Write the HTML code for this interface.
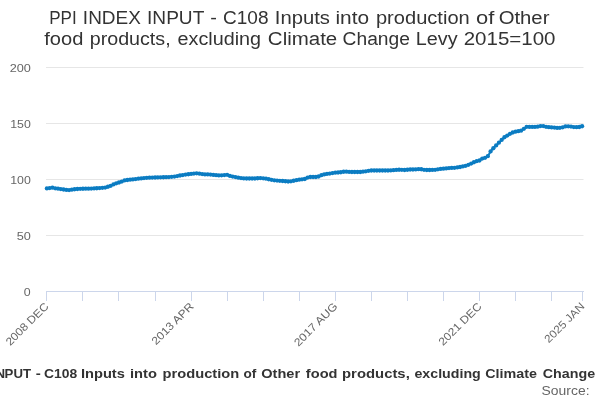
<!DOCTYPE html>
<html><head><meta charset="utf-8"><title>PPI INDEX INPUT - C108</title>
<style>
html,body{margin:0;padding:0;background:#fff;width:600px;height:400px;overflow:hidden}
svg{display:block;font-family:"Liberation Sans",sans-serif;will-change:transform}
.t{font-size:18px;fill:#333}
.ax{font-size:11px;fill:#666}
.lg{font-size:12.6px;font-weight:bold;fill:#333}
.src{font-size:12px;fill:#666}
</style></head>
<body>
<svg width="600" height="400" viewBox="0 0 600 400">
<rect x="0" y="0" width="600" height="400" fill="#ffffff"/>
<path d="M46 67.5H583.5M46 123.5H583.5M46 179.5H583.5M46 235.5H583.5" stroke="#e6e6e6" stroke-width="1" fill="none"/>
<path d="M46 291.5H584" stroke="#ccd6eb" stroke-width="1" fill="none"/>
<path d="M46.5 291V301M82.5 291V301M118.5 291V301M155.5 291V301M191.5 291V301M227.5 291V301M263.5 291V301M299.5 291V301M335.5 291V301M371.5 291V301M407.5 291V301M443.5 291V301M479.5 291V301M515.5 291V301M551.5 291V301M582.5 291V301" stroke="#ccd6eb" stroke-width="1" fill="none"/>
<g class="t">
<text x="49.27" y="24" textLength="27.42" lengthAdjust="spacingAndGlyphs">PPI</text>
<text x="82.89" y="24" textLength="57.93" lengthAdjust="spacingAndGlyphs">INDEX</text>
<text x="147.07" y="24" textLength="57.25" lengthAdjust="spacingAndGlyphs">INPUT</text>
<text x="210.39" y="24" textLength="6.66" lengthAdjust="spacingAndGlyphs">-</text>
<text x="223.04" y="24" textLength="45.46" lengthAdjust="spacingAndGlyphs">C108</text>
<text x="274.83" y="24" textLength="55.13" lengthAdjust="spacingAndGlyphs">Inputs</text>
<text x="335.47" y="24" textLength="33.66" lengthAdjust="spacingAndGlyphs">into</text>
<text x="375.96" y="24" textLength="93.77" lengthAdjust="spacingAndGlyphs">production</text>
<text x="475.94" y="24" textLength="18.30" lengthAdjust="spacingAndGlyphs">of</text>
<text x="498.65" y="24" textLength="50.78" lengthAdjust="spacingAndGlyphs">Other</text>
<text x="44.29" y="45" textLength="39.10" lengthAdjust="spacingAndGlyphs">food</text>
<text x="89.71" y="45" textLength="80.90" lengthAdjust="spacingAndGlyphs">products,</text>
<text x="177.57" y="45" textLength="83.51" lengthAdjust="spacingAndGlyphs">excluding</text>
<text x="267.89" y="45" textLength="69.37" lengthAdjust="spacingAndGlyphs">Climate</text>
<text x="342.57" y="45" textLength="67.32" lengthAdjust="spacingAndGlyphs">Change</text>
<text x="415.73" y="45" textLength="41.83" lengthAdjust="spacingAndGlyphs">Levy</text>
<text x="463.71" y="45" textLength="91.75" lengthAdjust="spacingAndGlyphs">2015=100</text>
</g>
<g class="ax">
<text x="9.65" y="72" textLength="21.17" lengthAdjust="spacingAndGlyphs">200</text>
<text x="10.25" y="128" textLength="20.57" lengthAdjust="spacingAndGlyphs">150</text>
<text x="10.25" y="184" textLength="20.57" lengthAdjust="spacingAndGlyphs">100</text>
<text x="16.70" y="240" textLength="14.13" lengthAdjust="spacingAndGlyphs">50</text>
<text x="23.86" y="296" textLength="6.88" lengthAdjust="spacingAndGlyphs">0</text>
</g>
<g class="ax"><text x="49.3" y="307.1" text-anchor="end" textLength="55.4" lengthAdjust="spacingAndGlyphs" transform="rotate(-45 49.3 307.1)">2008 DEC</text><text x="194.3" y="307.1" text-anchor="end" textLength="54.3" lengthAdjust="spacingAndGlyphs" transform="rotate(-45 194.3 307.1)">2013 APR</text><text x="338.3" y="307.1" text-anchor="end" textLength="56.4" lengthAdjust="spacingAndGlyphs" transform="rotate(-45 338.3 307.1)">2017 AUG</text><text x="482.3" y="307.1" text-anchor="end" textLength="55.4" lengthAdjust="spacingAndGlyphs" transform="rotate(-45 482.3 307.1)">2021 DEC</text><text x="585.3" y="307.1" text-anchor="end" textLength="51.6" lengthAdjust="spacingAndGlyphs" transform="rotate(-45 585.3 307.1)">2025 JAN</text></g>
<path d="M46.90 188.47 L49.67 188.05 L52.45 187.67 L55.22 188.33 L57.99 188.72 L60.77 189.11 L63.54 189.50 L66.31 189.92 L69.08 190.06 L71.86 189.72 L74.63 189.26 L77.40 189.01 L80.18 188.80 L82.95 188.74 L85.72 188.69 L88.50 188.63 L91.27 188.55 L94.04 188.44 L96.81 188.25 L99.59 188.03 L102.36 187.81 L105.13 187.56 L107.91 186.76 L110.68 185.86 L113.45 184.47 L116.22 183.33 L119.00 182.50 L121.77 181.53 L124.54 180.47 L127.32 180.02 L130.09 179.69 L132.86 179.41 L135.64 179.11 L138.41 178.72 L141.18 178.38 L143.96 178.10 L146.73 177.86 L149.50 177.64 L152.27 177.55 L155.05 177.50 L157.82 177.39 L160.59 177.29 L163.37 177.23 L166.14 177.15 L168.91 177.04 L171.69 176.83 L174.46 176.55 L177.23 176.05 L180.00 175.50 L182.78 175.06 L185.55 174.62 L188.32 174.23 L191.10 173.89 L193.87 173.61 L196.64 173.34 L199.42 173.70 L202.19 174.06 L204.96 174.40 L207.73 174.45 L210.51 174.56 L213.28 174.89 L216.05 175.18 L218.83 175.41 L221.60 175.34 L224.37 175.06 L227.15 174.86 L229.92 175.97 L232.69 176.54 L235.46 177.09 L238.24 177.65 L241.01 178.10 L243.78 178.38 L246.56 178.50 L249.33 178.50 L252.10 178.50 L254.88 178.50 L257.65 178.24 L260.42 178.04 L263.19 178.32 L265.97 178.69 L268.74 179.25 L271.51 179.80 L274.29 180.36 L277.06 180.62 L279.83 180.79 L282.61 181.01 L285.38 181.24 L288.15 181.50 L290.92 181.32 L293.70 180.76 L296.47 180.21 L299.24 179.65 L302.02 179.30 L304.79 179.02 L307.56 177.55 L310.33 177.00 L313.11 177.00 L315.88 177.00 L318.65 176.51 L321.43 175.13 L324.20 174.41 L326.97 173.92 L329.75 173.54 L332.52 173.10 L335.29 172.68 L338.06 172.52 L340.84 172.25 L343.61 171.75 L346.38 171.64 L349.16 171.92 L351.93 172.00 L354.70 172.00 L357.48 172.00 L360.25 171.98 L363.02 171.70 L365.80 171.34 L368.57 170.79 L371.34 170.50 L374.11 170.50 L376.89 170.50 L379.66 170.50 L382.43 170.50 L385.21 170.50 L387.98 170.50 L390.75 170.42 L393.52 170.15 L396.30 169.92 L399.07 169.76 L401.84 169.81 L404.62 169.98 L407.39 169.76 L410.16 169.50 L412.94 169.50 L415.71 169.43 L418.48 169.15 L421.25 169.25 L424.03 169.81 L426.80 170.00 L429.57 170.00 L432.35 169.91 L435.12 169.78 L437.89 169.34 L440.67 168.93 L443.44 168.66 L446.21 168.38 L448.99 168.10 L451.76 167.93 L454.53 167.82 L457.30 167.43 L460.08 166.98 L462.85 166.43 L465.62 165.78 L468.40 164.78 L471.17 163.58 L473.94 162.27 L476.71 161.13 L479.49 160.50 L482.26 158.53 L485.03 157.78 L487.81 156.19 L490.58 151.40 L493.35 148.27 L496.13 145.47 L498.90 142.70 L501.67 139.93 L504.44 137.27 L507.22 135.55 L509.99 133.81 L512.76 132.51 L515.54 131.64 L518.31 131.15 L521.08 130.68 L523.86 128.79 L526.63 126.82 L529.40 126.89 L532.18 126.90 L534.95 126.90 L537.72 126.63 L540.49 126.10 L543.27 126.12 L546.04 126.81 L548.81 127.22 L551.59 127.46 L554.36 127.57 L557.13 127.88 L559.90 127.87 L562.68 127.30 L565.45 126.47 L568.22 126.31 L571.00 126.60 L573.77 127.05 L576.54 127.18 L579.32 127.01 L582.09 126.23" stroke="#0B7CC2" stroke-width="2" fill="none" stroke-linejoin="round" stroke-linecap="round"/>
<g fill="#0B7CC2"><circle cx="46.90" cy="188.47" r="2.15"/><circle cx="49.67" cy="188.05" r="2.15"/><circle cx="52.45" cy="187.67" r="2.15"/><circle cx="55.22" cy="188.33" r="2.15"/><circle cx="57.99" cy="188.72" r="2.15"/><circle cx="60.77" cy="189.11" r="2.15"/><circle cx="63.54" cy="189.50" r="2.15"/><circle cx="66.31" cy="189.92" r="2.15"/><circle cx="69.08" cy="190.06" r="2.15"/><circle cx="71.86" cy="189.72" r="2.15"/><circle cx="74.63" cy="189.26" r="2.15"/><circle cx="77.40" cy="189.01" r="2.15"/><circle cx="80.18" cy="188.80" r="2.15"/><circle cx="82.95" cy="188.74" r="2.15"/><circle cx="85.72" cy="188.69" r="2.15"/><circle cx="88.50" cy="188.63" r="2.15"/><circle cx="91.27" cy="188.55" r="2.15"/><circle cx="94.04" cy="188.44" r="2.15"/><circle cx="96.81" cy="188.25" r="2.15"/><circle cx="99.59" cy="188.03" r="2.15"/><circle cx="102.36" cy="187.81" r="2.15"/><circle cx="105.13" cy="187.56" r="2.15"/><circle cx="107.91" cy="186.76" r="2.15"/><circle cx="110.68" cy="185.86" r="2.15"/><circle cx="113.45" cy="184.47" r="2.15"/><circle cx="116.22" cy="183.33" r="2.15"/><circle cx="119.00" cy="182.50" r="2.15"/><circle cx="121.77" cy="181.53" r="2.15"/><circle cx="124.54" cy="180.47" r="2.15"/><circle cx="127.32" cy="180.02" r="2.15"/><circle cx="130.09" cy="179.69" r="2.15"/><circle cx="132.86" cy="179.41" r="2.15"/><circle cx="135.64" cy="179.11" r="2.15"/><circle cx="138.41" cy="178.72" r="2.15"/><circle cx="141.18" cy="178.38" r="2.15"/><circle cx="143.96" cy="178.10" r="2.15"/><circle cx="146.73" cy="177.86" r="2.15"/><circle cx="149.50" cy="177.64" r="2.15"/><circle cx="152.27" cy="177.55" r="2.15"/><circle cx="155.05" cy="177.50" r="2.15"/><circle cx="157.82" cy="177.39" r="2.15"/><circle cx="160.59" cy="177.29" r="2.15"/><circle cx="163.37" cy="177.23" r="2.15"/><circle cx="166.14" cy="177.15" r="2.15"/><circle cx="168.91" cy="177.04" r="2.15"/><circle cx="171.69" cy="176.83" r="2.15"/><circle cx="174.46" cy="176.55" r="2.15"/><circle cx="177.23" cy="176.05" r="2.15"/><circle cx="180.00" cy="175.50" r="2.15"/><circle cx="182.78" cy="175.06" r="2.15"/><circle cx="185.55" cy="174.62" r="2.15"/><circle cx="188.32" cy="174.23" r="2.15"/><circle cx="191.10" cy="173.89" r="2.15"/><circle cx="193.87" cy="173.61" r="2.15"/><circle cx="196.64" cy="173.34" r="2.15"/><circle cx="199.42" cy="173.70" r="2.15"/><circle cx="202.19" cy="174.06" r="2.15"/><circle cx="204.96" cy="174.40" r="2.15"/><circle cx="207.73" cy="174.45" r="2.15"/><circle cx="210.51" cy="174.56" r="2.15"/><circle cx="213.28" cy="174.89" r="2.15"/><circle cx="216.05" cy="175.18" r="2.15"/><circle cx="218.83" cy="175.41" r="2.15"/><circle cx="221.60" cy="175.34" r="2.15"/><circle cx="224.37" cy="175.06" r="2.15"/><circle cx="227.15" cy="174.86" r="2.15"/><circle cx="229.92" cy="175.97" r="2.15"/><circle cx="232.69" cy="176.54" r="2.15"/><circle cx="235.46" cy="177.09" r="2.15"/><circle cx="238.24" cy="177.65" r="2.15"/><circle cx="241.01" cy="178.10" r="2.15"/><circle cx="243.78" cy="178.38" r="2.15"/><circle cx="246.56" cy="178.50" r="2.15"/><circle cx="249.33" cy="178.50" r="2.15"/><circle cx="252.10" cy="178.50" r="2.15"/><circle cx="254.88" cy="178.50" r="2.15"/><circle cx="257.65" cy="178.24" r="2.15"/><circle cx="260.42" cy="178.04" r="2.15"/><circle cx="263.19" cy="178.32" r="2.15"/><circle cx="265.97" cy="178.69" r="2.15"/><circle cx="268.74" cy="179.25" r="2.15"/><circle cx="271.51" cy="179.80" r="2.15"/><circle cx="274.29" cy="180.36" r="2.15"/><circle cx="277.06" cy="180.62" r="2.15"/><circle cx="279.83" cy="180.79" r="2.15"/><circle cx="282.61" cy="181.01" r="2.15"/><circle cx="285.38" cy="181.24" r="2.15"/><circle cx="288.15" cy="181.50" r="2.15"/><circle cx="290.92" cy="181.32" r="2.15"/><circle cx="293.70" cy="180.76" r="2.15"/><circle cx="296.47" cy="180.21" r="2.15"/><circle cx="299.24" cy="179.65" r="2.15"/><circle cx="302.02" cy="179.30" r="2.15"/><circle cx="304.79" cy="179.02" r="2.15"/><circle cx="307.56" cy="177.55" r="2.15"/><circle cx="310.33" cy="177.00" r="2.15"/><circle cx="313.11" cy="177.00" r="2.15"/><circle cx="315.88" cy="177.00" r="2.15"/><circle cx="318.65" cy="176.51" r="2.15"/><circle cx="321.43" cy="175.13" r="2.15"/><circle cx="324.20" cy="174.41" r="2.15"/><circle cx="326.97" cy="173.92" r="2.15"/><circle cx="329.75" cy="173.54" r="2.15"/><circle cx="332.52" cy="173.10" r="2.15"/><circle cx="335.29" cy="172.68" r="2.15"/><circle cx="338.06" cy="172.52" r="2.15"/><circle cx="340.84" cy="172.25" r="2.15"/><circle cx="343.61" cy="171.75" r="2.15"/><circle cx="346.38" cy="171.64" r="2.15"/><circle cx="349.16" cy="171.92" r="2.15"/><circle cx="351.93" cy="172.00" r="2.15"/><circle cx="354.70" cy="172.00" r="2.15"/><circle cx="357.48" cy="172.00" r="2.15"/><circle cx="360.25" cy="171.98" r="2.15"/><circle cx="363.02" cy="171.70" r="2.15"/><circle cx="365.80" cy="171.34" r="2.15"/><circle cx="368.57" cy="170.79" r="2.15"/><circle cx="371.34" cy="170.50" r="2.15"/><circle cx="374.11" cy="170.50" r="2.15"/><circle cx="376.89" cy="170.50" r="2.15"/><circle cx="379.66" cy="170.50" r="2.15"/><circle cx="382.43" cy="170.50" r="2.15"/><circle cx="385.21" cy="170.50" r="2.15"/><circle cx="387.98" cy="170.50" r="2.15"/><circle cx="390.75" cy="170.42" r="2.15"/><circle cx="393.52" cy="170.15" r="2.15"/><circle cx="396.30" cy="169.92" r="2.15"/><circle cx="399.07" cy="169.76" r="2.15"/><circle cx="401.84" cy="169.81" r="2.15"/><circle cx="404.62" cy="169.98" r="2.15"/><circle cx="407.39" cy="169.76" r="2.15"/><circle cx="410.16" cy="169.50" r="2.15"/><circle cx="412.94" cy="169.50" r="2.15"/><circle cx="415.71" cy="169.43" r="2.15"/><circle cx="418.48" cy="169.15" r="2.15"/><circle cx="421.25" cy="169.25" r="2.15"/><circle cx="424.03" cy="169.81" r="2.15"/><circle cx="426.80" cy="170.00" r="2.15"/><circle cx="429.57" cy="170.00" r="2.15"/><circle cx="432.35" cy="169.91" r="2.15"/><circle cx="435.12" cy="169.78" r="2.15"/><circle cx="437.89" cy="169.34" r="2.15"/><circle cx="440.67" cy="168.93" r="2.15"/><circle cx="443.44" cy="168.66" r="2.15"/><circle cx="446.21" cy="168.38" r="2.15"/><circle cx="448.99" cy="168.10" r="2.15"/><circle cx="451.76" cy="167.93" r="2.15"/><circle cx="454.53" cy="167.82" r="2.15"/><circle cx="457.30" cy="167.43" r="2.15"/><circle cx="460.08" cy="166.98" r="2.15"/><circle cx="462.85" cy="166.43" r="2.15"/><circle cx="465.62" cy="165.78" r="2.15"/><circle cx="468.40" cy="164.78" r="2.15"/><circle cx="471.17" cy="163.58" r="2.15"/><circle cx="473.94" cy="162.27" r="2.15"/><circle cx="476.71" cy="161.13" r="2.15"/><circle cx="479.49" cy="160.50" r="2.15"/><circle cx="482.26" cy="158.53" r="2.15"/><circle cx="485.03" cy="157.78" r="2.15"/><circle cx="487.81" cy="156.19" r="2.15"/><circle cx="490.58" cy="151.40" r="2.15"/><circle cx="493.35" cy="148.27" r="2.15"/><circle cx="496.13" cy="145.47" r="2.15"/><circle cx="498.90" cy="142.70" r="2.15"/><circle cx="501.67" cy="139.93" r="2.15"/><circle cx="504.44" cy="137.27" r="2.15"/><circle cx="507.22" cy="135.55" r="2.15"/><circle cx="509.99" cy="133.81" r="2.15"/><circle cx="512.76" cy="132.51" r="2.15"/><circle cx="515.54" cy="131.64" r="2.15"/><circle cx="518.31" cy="131.15" r="2.15"/><circle cx="521.08" cy="130.68" r="2.15"/><circle cx="523.86" cy="128.79" r="2.15"/><circle cx="526.63" cy="126.82" r="2.15"/><circle cx="529.40" cy="126.89" r="2.15"/><circle cx="532.18" cy="126.90" r="2.15"/><circle cx="534.95" cy="126.90" r="2.15"/><circle cx="537.72" cy="126.63" r="2.15"/><circle cx="540.49" cy="126.10" r="2.15"/><circle cx="543.27" cy="126.12" r="2.15"/><circle cx="546.04" cy="126.81" r="2.15"/><circle cx="548.81" cy="127.22" r="2.15"/><circle cx="551.59" cy="127.46" r="2.15"/><circle cx="554.36" cy="127.57" r="2.15"/><circle cx="557.13" cy="127.88" r="2.15"/><circle cx="559.90" cy="127.87" r="2.15"/><circle cx="562.68" cy="127.30" r="2.15"/><circle cx="565.45" cy="126.47" r="2.15"/><circle cx="568.22" cy="126.31" r="2.15"/><circle cx="571.00" cy="126.60" r="2.15"/><circle cx="573.77" cy="127.05" r="2.15"/><circle cx="576.54" cy="127.18" r="2.15"/><circle cx="579.32" cy="127.01" r="2.15"/><circle cx="582.09" cy="126.23" r="2.15"/></g>
<g class="lg">
<text x="-4.64" y="378" textLength="9.60" lengthAdjust="spacingAndGlyphs">N</text>
<text x="4.63" y="378" textLength="26.42" lengthAdjust="spacingAndGlyphs">PUT</text>
<text x="35.81" y="378" textLength="5.07" lengthAdjust="spacingAndGlyphs">-</text>
<text x="44.10" y="378" textLength="33.17" lengthAdjust="spacingAndGlyphs">C108</text>
<text x="80.93" y="378" textLength="43.98" lengthAdjust="spacingAndGlyphs">Inputs</text>
<text x="130.01" y="378" textLength="26.95" lengthAdjust="spacingAndGlyphs">into</text>
<text x="162.62" y="378" textLength="76.66" lengthAdjust="spacingAndGlyphs">production</text>
<text x="243.49" y="378" textLength="12.83" lengthAdjust="spacingAndGlyphs">of</text>
<text x="261.29" y="378" textLength="38.84" lengthAdjust="spacingAndGlyphs">Other</text>
<text x="305.86" y="378" textLength="31.63" lengthAdjust="spacingAndGlyphs">food</text>
<text x="342.04" y="378" textLength="67.74" lengthAdjust="spacingAndGlyphs">products,</text>
<text x="414.45" y="378" textLength="66.31" lengthAdjust="spacingAndGlyphs">excluding</text>
<text x="485.19" y="378" textLength="51.78" lengthAdjust="spacingAndGlyphs">Climate</text>
<text x="542.82" y="378" textLength="52.36" lengthAdjust="spacingAndGlyphs">Change</text>
</g>
<g class="src">
<text x="541.60" y="394.5" textLength="47.91" lengthAdjust="spacingAndGlyphs">Source:</text>
</g>
</svg>
</body></html>
